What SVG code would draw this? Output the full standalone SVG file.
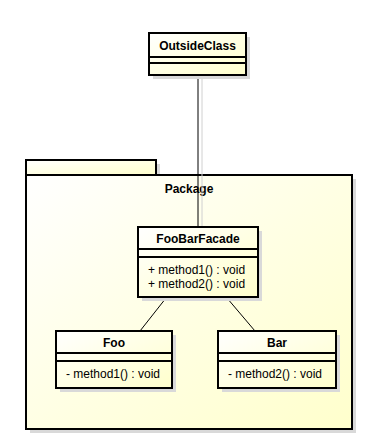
<svg xmlns="http://www.w3.org/2000/svg" width="373" height="444" viewBox="0 0 373 444">
<defs>
<linearGradient id="g" x1="0" y1="0" x2="1" y2="1">
<stop offset="0" stop-color="#FFFFFF"/>
<stop offset="0.5" stop-color="#FFFFE4"/>
<stop offset="1" stop-color="#FFFFCC"/>
</linearGradient>
<style>
.sh{fill:#D9D9D9;stroke:none}
.bx{fill:url(#g);stroke:#000;stroke-width:2}
.ln{stroke:#000;stroke-width:2;fill:none}
.cn{stroke:#000;stroke-width:1;fill:none}
.cs{stroke:#D0D0D0;stroke-width:1;fill:none}
.t{font-family:"Liberation Sans",Arial,sans-serif;font-size:12px;fill:#000}
.b{font-weight:bold;text-anchor:middle}
</style>
</defs>
<rect width="373" height="444" fill="#FFFFFF"/>
<g id="package">
<rect class="sh" x="30" y="164" width="130" height="15"/>
<rect class="sh" x="30" y="179" width="326" height="254"/>
<rect class="bx" x="26" y="160" width="130" height="15"/>
<rect class="bx" x="26" y="175" width="326" height="254"/>
<text class="t b" x="189" y="193">Package</text>
</g>
<g id="connectors">
<line class="cs" x1="202" y1="79" x2="202" y2="227"/>
<line class="cn" x1="198" y1="75" x2="198" y2="227"/>
<line class="cn" x1="166" y1="298" x2="140" y2="331"/>
<line class="cn" x1="227" y1="298" x2="255" y2="331"/>
</g>
<g id="OutsideClass">
<rect class="sh" x="153" y="37" width="97" height="42"/>
<rect class="bx" x="149" y="33" width="97" height="42"/>
<text class="t b" x="197.5" y="50">OutsideClass</text>
<line class="ln" x1="149" y1="57" x2="246" y2="57"/>
<line class="ln" x1="149" y1="63" x2="246" y2="63"/>
</g>
<g id="FooBarFacade">
<rect class="sh" x="142" y="231" width="120" height="70"/>
<rect class="bx" x="138" y="227" width="120" height="70"/>
<text class="t b" x="198" y="243">FooBarFacade</text>
<line class="ln" x1="138" y1="249" x2="258" y2="249"/>
<line class="ln" x1="138" y1="257" x2="258" y2="257"/>
<text class="t" x="148" y="274">+ method1() : void</text>
<text class="t" x="148" y="288">+ method2() : void</text>
</g>
<g id="Foo">
<rect class="sh" x="60" y="335" width="116" height="57"/>
<rect class="bx" x="56" y="331" width="116" height="57"/>
<text class="t b" x="114" y="347">Foo</text>
<line class="ln" x1="56" y1="353" x2="172" y2="353"/>
<line class="ln" x1="56" y1="361" x2="172" y2="361"/>
<text class="t" x="66" y="378">- method1() : void</text>
</g>
<g id="Bar">
<rect class="sh" x="222" y="335" width="118" height="57"/>
<rect class="bx" x="218" y="331" width="118" height="57"/>
<text class="t b" x="277" y="347">Bar</text>
<line class="ln" x1="218" y1="353" x2="336" y2="353"/>
<line class="ln" x1="218" y1="361" x2="336" y2="361"/>
<text class="t" x="228" y="378">- method2() : void</text>
</g>
</svg>
